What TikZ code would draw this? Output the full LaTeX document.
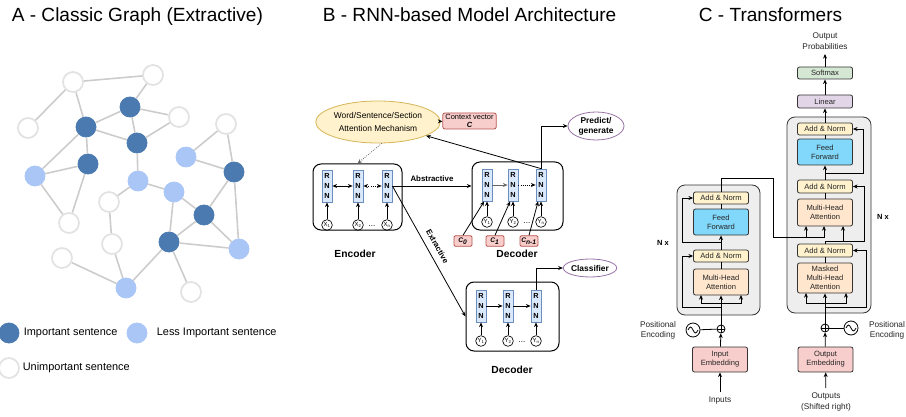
\documentclass[tikz,border=0pt]{standalone}
\usepackage{fontspec}
\setmainfont{Liberation Sans}
\usetikzlibrary{positioning,shapes.geometric,arrows.meta}

\definecolor{imp}{HTML}{4A7AB0}
\definecolor{less}{HTML}{A9C6F7}
\definecolor{edgegray}{HTML}{CCCCCC}
\definecolor{ringgray}{HTML}{E2E2E2}
\definecolor{rnnfill}{HTML}{DAE8FC}
\definecolor{rnnline}{HTML}{6C8EBF}
\definecolor{attfill}{HTML}{FFF2CC}
\definecolor{attline}{HTML}{D6B656}
\definecolor{ctxfill}{HTML}{F8CECC}
\definecolor{ctxline}{HTML}{B85450}
\definecolor{purp}{HTML}{9673A6}
\definecolor{blockfill}{HTML}{EEEEEE}
\definecolor{ffblue}{HTML}{82D8FA}
\definecolor{mhafill}{HTML}{FFE6CC}
\definecolor{smfill}{HTML}{D5E8D4}
\definecolor{linfill}{HTML}{E1D5E7}

\tikzset{
  sent/.style={circle, inner sep=0pt, minimum size=15pt},
  impnode/.style={sent, fill=imp, draw=imp},
  lessnode/.style={sent, fill=less, draw=less},
  unnode/.style={sent, fill=white, draw=ringgray, line width=1.3pt},
  link/.style={draw=edgegray, line width=1.2pt},
  title/.style={anchor=base west, font=\fontsize{14.3}{17}\selectfont},
  key/.style={anchor=west, font=\fontsize{8.2}{10}\selectfont},
  rnn/.style={draw=rnnline, fill=rnnfill, line width=0.6pt, minimum width=7.5pt, minimum height=24pt,
    inner sep=0pt, align=center, font=\bfseries\fontsize{5.5}{7.5}\selectfont},
  tok/.style={circle, draw, line width=0.5pt, inner sep=0pt, minimum size=8pt, font=\fontsize{4.5}{5}\selectfont},
  rbox/.style={draw, rounded corners=6pt, line width=0.75pt},
  cbox/.style={draw=ctxline, fill=ctxfill, rounded corners=1pt, line width=0.6pt, minimum width=13.5pt,
    minimum height=8pt, inner sep=0pt, font=\bfseries\itshape\fontsize{5}{6}\selectfont},
  oval/.style={ellipse, draw=purp, line width=0.6pt, fill=white, inner sep=0pt, align=center,
    font=\bfseries\fontsize{6.3}{7.6}\selectfont},
  lbl/.style={font=\bfseries\fontsize{7.7}{9}\selectfont},
  block/.style={draw=black!80, fill=blockfill, rounded corners=6pt, line width=0.6pt},
  tbox/.style={draw=black!80, rounded corners=1.5pt, line width=0.6pt, minimum width=41.25pt, inner sep=0pt,
    align=center, font=\fontsize{5.7}{6.8}\selectfont, text=black!85},
  ttext/.style={align=center, font=\fontsize{6.2}{7.8}\selectfont, text=black!85},
  plus/.style={circle, draw, line width=0.6pt, inner sep=0pt, minimum size=6pt},
  wave/.style={circle, draw, line width=0.6pt, inner sep=0pt, minimum size=10.5pt}
}

\begin{document}
\begin{tikzpicture}[x=0.75pt, y=-0.75pt, >={Stealth[length=3.5pt,width=3pt]}, line width=0.6pt]
\useasboundingbox (0,0) rectangle (906,417);

% A - classic graph
\node[title] at (7,22) {A - Classic Graph (Extractive)};

\node[unnode] (U1) at (73,82) {};
\node[unnode] (U2) at (153,75) {};
\node[unnode] (U3) at (28,128) {};
\node[unnode] (U4) at (179,117) {};
\node[unnode] (U5) at (226,124) {};
\node[unnode] (U6) at (109,202) {};
\node[unnode] (U7) at (69,223) {};
\node[unnode] (U8) at (112,244) {};
\node[unnode] (U9) at (62,258) {};
\node[unnode] (U10) at (191,292) {};
\node[impnode] (I1) at (86,127) {};
\node[impnode] (I2) at (130,107) {};
\node[impnode] (I3) at (137,143) {};
\node[impnode] (I4) at (88,164) {};
\node[impnode] (I5) at (234,172) {};
\node[impnode] (I6) at (204,215) {};
\node[impnode] (I7) at (169,242) {};
\node[lessnode] (L1) at (35,176) {};
\node[lessnode] (L2) at (138,181) {};
\node[lessnode] (L3) at (186,157) {};
\node[lessnode] (L4) at (174,192) {};
\node[lessnode] (L5) at (239,249) {};
\node[lessnode] (L6) at (126,288) {};

\foreach \a/\b in {U1/U2, U1/U3, U1/I1, U2/I2, I1/I2, I1/I3, I1/I4, I1/L1, I2/U4, I2/I3,
    I3/U4, I3/L2, I4/L1, I4/U7, L1/U7, L2/U6, L2/L4, U6/U8, U8/L6, U9/L6, L6/I7, L4/I7,
    L4/I6, I7/I6, I7/L5, I7/U10, I6/L5, I6/I5, I5/L5, I5/L3, I5/U5, U5/L3}
  \draw[link] (\a) -- (\b);

\node[impnode] (K1) at (9,333) {};
\node[key] at (19,333) {Important sentence};
\node[lessnode] (K2) at (137,333) {};
\node[key] at (152,333) {Less Important sentence};
\node[unnode] (K3) at (9,368) {};
\node[key] at (18,368) {Unimportant sentence};

% B - RNN based model
\node[title] at (318,22) {B - RNN-based Model Architecture};

\node[ellipse, draw=attline, fill=attfill, line width=0.6pt, minimum width=72pt, minimum height=31.5pt,
  inner sep=0pt, align=center, font=\fontsize{6.3}{10}\selectfont] (ATT) at (378,122)
  {Word/Sentence/Section\\Attention Mechanism};
\node[draw=ctxline, fill=ctxfill, rounded corners=1.5pt, minimum width=40pt, minimum height=12pt,
  inner sep=0pt, align=center, font=\fontsize{5.6}{6.5}\selectfont] (CTX) at (469.5,121)
  {Context vector\\\textbf{\textit{C}}};
\draw[->] (ATT) -- (CTX);

\node[rbox, minimum width=66.75pt, minimum height=49.5pt] (ENC) at (357.5,197) {};
\node[rnn] (E1) at (327,186) {R\\N\\N};
\node[rnn] (E2) at (358,186) {R\\N\\N};
\node[rnn] (E3) at (387,186) {R\\N\\N};
\node[tok] (X1) at (327,225) {X\textsubscript{1}};
\node[tok] (X2) at (358,225) {X\textsubscript{2}};
\node[tok] (X3) at (387,225) {X\textsubscript{n}};
\node[font=\fontsize{6}{7}\selectfont] at (372,226) {...};
\foreach \i in {1,2,3} \draw[->] (X\i) -- (E\i);
\draw[<->] (E1) -- (E2);
\draw[<->, densely dotted] (E2) -- (E3);
\node[lbl] at (355,254) {Encoder};
\draw[->, densely dotted, black!60] (ATT.-80) -- (ENC.north);

\node[rbox, minimum width=68.25pt, minimum height=51pt] (DEC) at (517.5,196) {};
\node[rnn] (D1) at (487,185) {R\\N\\N};
\node[rnn] (D2) at (513,185) {R\\N\\N};
\node[rnn] (D3) at (541,185) {R\\N\\N};
\node[tok] (Y1) at (487,222) {Y\textsubscript{1}};
\node[tok] (Y2) at (513,222) {Y\textsubscript{2}};
\node[tok] (Y3) at (541,222) {Y\textsubscript{n}};
\node[font=\fontsize{6}{7}\selectfont] at (527,223) {...};
\foreach \i in {1,2,3} \draw[->] (Y\i) -- (D\i);
\draw[->, black!60] (D1) -- (D2);
\draw[->, densely dotted] (D2) -- (D3);
\node[cbox] (C0) at (463,241) {C\textsubscript{0}};
\node[cbox] (C1) at (495,241) {C\textsubscript{1}};
\node[cbox] (CN) at (529,241) {C\textsubscript{n-1}};
\draw[->] (C0.north) -- (D1.260);
\draw[->] (C1.north) -- (D2.260);
\draw[->] (CN.north) -- (D3.260);
\node[lbl] at (517,254) {Decoder};
\draw[->] (D3.north) -- (ATT);
\node[oval, minimum width=42pt, minimum height=21pt] (PRED) at (596,126) {Predict/\\generate};
\draw[->] (D3.north) |- (PRED);

\draw[->] (E3.east) -- node[above, font=\bfseries\fontsize{5.9}{7}\selectfont] {Abstractive} (E3.east -| DEC.west);

\node[rbox, minimum width=69.75pt, minimum height=51.75pt] (DEC2) at (512.5,316.5) {};
\node[rnn] (F1) at (481,306) {R\\N\\N};
\node[rnn] (F2) at (508,306) {R\\N\\N};
\node[rnn] (F3) at (536,306) {R\\N\\N};
\node[tok] (G1) at (481,341) {Y\textsubscript{1}};
\node[tok] (G2) at (508,341) {Y\textsubscript{2}};
\node[tok] (G3) at (536,341) {Y\textsubscript{n}};
\node[font=\fontsize{6}{7}\selectfont] at (522,342) {...};
\foreach \i in {1,2,3} \draw[->] (G\i) -- (F\i);
\draw[->] (F1) -- (F2);
\draw[->] (F2) -- (F3);
\node[lbl] at (512,370) {Decoder};
\node[oval, minimum width=33pt, minimum height=13.5pt] (CLS) at (590,268) {Classifier};
\draw[->] (F3.north) |- (CLS);

\draw[->] (E3.east) -- node[sloped, above=1.5pt, pos=0.5, font=\bfseries\fontsize{5.9}{7}\selectfont] {Extractive} (DEC2.west);

% C - transformers
\node[title] at (694,22) {C - Transformers};

\node[block, minimum width=62.25pt, minimum height=97.5pt] (EB) at (718.5,250) {};
\node[block, minimum width=63pt, minimum height=147pt] (DB) at (829,215) {};

\node[tbox, fill=attfill, minimum height=9pt] (EA2) at (721,198) {Add \& Norm};
\node[tbox, fill=ffblue, minimum height=19.5pt] (EFF) at (721,222) {Feed\\Forward};
\node[tbox, fill=attfill, minimum height=9pt] (EA1) at (721,256) {Add \& Norm};
\node[tbox, fill=mhafill, minimum height=19.5pt] (EMH) at (721,282) {Multi-Head\\Attention};
\node[plus] (EP) at (721,329) {};
\draw (EP.north) -- (EP.south) (EP.west) -- (EP.east);
\node[wave] (EW) at (693,330) {};
\draw[shift={(EW.center)}] (-5,0) sin (-2.5,-3) cos (0,0) sin (2.5,3) cos (5,0);
\node[tbox, fill=ctxfill, minimum height=18.75pt] (EIN) at (720,359.5) {Input\\Embedding};
\node[ttext] (INP) at (720,401) {Inputs};
\node[ttext] at (658,330.5) {Positional\\Encoding};
\node[font=\bfseries\fontsize{5.6}{7}\selectfont] at (663,243) {N x};

\draw[->] (INP) -- (EIN);
\draw[->] (EIN) -- (EP);
\draw (EW) -- (EP);
\draw[->] (EP) -- (EMH);
\draw[->] (721,303) -| (701,295);
\draw[->] (721,303) -| (741,295);
\draw[->] (721,307) -| (682,256) -- (EA1.west);
\draw (EMH) -- (EA1);
\draw[->] (EA1) -- (EFF);
\draw[->] (721,242) -| (682,198) -- (EA2.west);
\draw (EFF) -- (EA2);
\draw[->] (EA2.north) |- (773,178) |- (806,237) -- (806,226);
\draw[->] (790,237) -| (824,226);

\node[tbox, fill=attfill, minimum height=9pt] (DA3) at (825,129) {Add \& Norm};
\node[tbox, fill=ffblue, minimum height=19.5pt] (DFF) at (825,152) {Feed\\Forward};
\node[tbox, fill=attfill, minimum height=9.75pt] (DA2) at (825,186.5) {Add \& Norm};
\node[tbox, fill=mhafill, minimum height=20.25pt] (DMH) at (825,212.5) {Multi-Head\\Attention};
\node[tbox, fill=attfill, minimum height=9.75pt] (DA1) at (825,250.5) {Add \& Norm};
\node[tbox, fill=mhafill, minimum height=22.5pt] (DMM) at (825,278) {Masked\\Multi-Head\\Attention};
\node[tbox, fill=linfill, minimum height=9.75pt] (LIN) at (825,101.5) {Linear};
\node[tbox, fill=smfill, minimum height=9pt] (SM) at (825,73) {Softmax};
\node[ttext] (PROB) at (825,41) {Output\\Probabilities};
\node[plus] (DP) at (825,328) {};
\draw (DP.north) -- (DP.south) (DP.west) -- (DP.east);
\node[wave] (DW) at (851,328) {};
\draw[shift={(DW.center)}] (-5,0) sin (-2.5,-3) cos (0,0) sin (2.5,3) cos (5,0);
\node[tbox, fill=ctxfill, minimum height=18.75pt] (DOUT) at (825.5,359.5) {Output\\Embedding};
\node[ttext] (OUTP) at (826,402) {Outputs\\(Shifted right)};
\node[ttext] at (887,330.5) {Positional\\Encoding};
\node[font=\bfseries\fontsize{5.6}{7}\selectfont] at (883,217) {N x};

\draw[->] (OUTP) -- (DOUT);
\draw[->] (DOUT) -- (DP);
\draw (DW) -- (DP);
\draw[->] (DP) -- (DMM);
\draw[->] (825,303) -| (806,293);
\draw[->] (825,303) -| (846,293);
\draw[->] (825,307) -| (866,250.5) -- (DA1.east);
\draw (DMM) -- (DA1);
\draw[->] (DA1.north) |- (843,241) -- (843,226);
\draw[->] (843,241) -| (864,186.5) -- (DA2.east);
\draw (DMH) -- (DA2);
\draw[->] (DA2) -- (DFF);
\draw[->] (825,173) -| (863,129) -- (DA3.east);
\draw (DFF) -- (DA3);
\draw[->] (DA3) -- (LIN);
\draw[->] (LIN) -- (SM);
\draw[->] (SM) -- (PROB);
\end{tikzpicture}
\end{document}
